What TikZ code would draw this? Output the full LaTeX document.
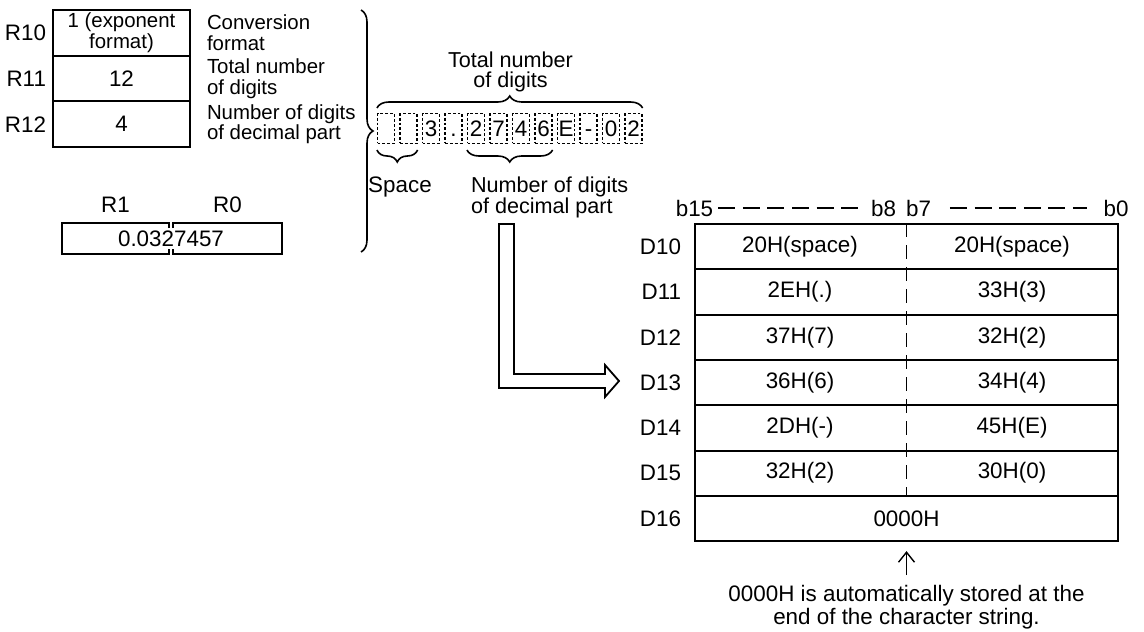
\documentclass[tikz,border=0pt]{standalone}
\usepackage{fontspec}
\setmainfont{Liberation Sans}
\usetikzlibrary{arrows.meta,positioning,decorations.pathreplacing}

\begin{document}
\begin{tikzpicture}[x=0.5pt, y=-0.5pt, line width=1pt,
    every node/.style={font=\fontsize{11.2}{10.3}\selectfont, inner sep=0pt},
    small/.style={font=\fontsize{10.2}{10.2}\selectfont},
    mid/.style={font=\fontsize{10.8}{10.3}\selectfont},
    cell/.style={draw, minimum width=68.5pt, minimum height=22.85pt, align=center},
    word/.style={draw, minimum width=211.5pt, minimum height=22.65pt},
    chr/.style={draw, line width=0.7pt, dash pattern=on 1.4pt off 1pt, minimum width=8.4pt, minimum height=14.8pt, text height=8pt, text depth=0pt},
    brc/.style={decorate, decoration={brace, amplitude=6pt}, line width=0.8pt},
    hdash/.style={line width=0.8pt, dash pattern=on 8.5pt off 3.8pt}]
    \useasboundingbox (0,0) rectangle (1144,631);

    % source registers
    \node[cell, small] (r10) at (121.5,32.85) {1 (exponent\\format)};
    \node[cell] (r11) at (121.5,78.55) {12};
    \node[cell] (r12) at (121.5,124.25) {4};
    \node[left=2.5pt of r10] {R10};
    \node[left=2.5pt of r11] {R11};
    \node[left=2.5pt of r12] {R12};
    \node[small, right=7.5pt of r10, align=left] (conv) {Conversion\\format};
    \node[small, right=7.5pt of r11, align=left] (total) {Total number\\of digits};
    \node[small, right=7.5pt of r12, align=left] (decim) {Number of digits\\of decimal part};

    \node[minimum width=52.5pt, minimum height=14.5pt] (r1) at (115.5,238.5) {};
    \node[minimum width=53.5pt, minimum height=14.5pt] (r0) at (227.5,238.5) {};
    \node[above=4.7pt of r1] {R1};
    \node[above=4.7pt of r0] {R0};
    \node (val) at (171,239) {0.0327457};
    \draw ([yshift=-2.5pt]r1.north east) -- (r1.north east) -- (r1.north west) -- (r1.south west) -- (r1.south east) -- ([yshift=2.5pt]r1.south east);
    \draw ([yshift=-2.5pt]r0.north west) -- (r0.north west) -- (r0.north east) -- (r0.south east) -- (r0.south west) -- ([yshift=2.5pt]r0.south west);

    \draw[brc] (361,10) -- (361,252);

    % character string
    \foreach \c [count=\i from 0] in {{},{},3,.,2,7,4,6,E,-,0,2}
      \node[chr] (c\i) at (386+22.5*\i,128.5) {\c};
    \draw[brc] ([yshift=2.5pt]c0.north west) -- ([yshift=2.5pt]c11.north east);
    \node[mid, align=center] (totlbl) at (510.5,72) {Total number\\of digits};
    \draw[brc] ([yshift=-3pt]c1.south east) -- ([yshift=-3pt]c0.south west);
    \node (spclbl) at (400,187) {Space};
    \draw[brc] ([yshift=-3pt]c7.south east) -- ([yshift=-3pt]c4.south west);
    \node[mid, align=left, anchor=west] (declbl) at (470,197.5) {Number of digits\\of decimal part};

    % hollow arrow
    \draw[line width=0.9pt] (499,224) -- (514,224) -- (514,374) -- (605,374) -- (605,365) -- (619,381) -- (605,397) -- (605,388) -- (499,388) -- cycle;

    % destination devices
    \node (b15) at (694.5,208) {b15};
    \node (b8) at (883.5,208) {b8};
    \node (b7) at (918.5,208) {b7};
    \node (b0) at (1116,208) {b0};
    \draw[hdash] ([xshift=2pt]b15.east) -- ([xshift=-6pt]b8.west);
    \draw[hdash] ([xshift=9pt]b7.east) -- ([xshift=-8pt]b0.west);

    \foreach \v [count=\i from 0] in {10,...,16}{
      \node[word] (row\i) at (906.5,{224+45.3*(\i+0.5)}) {};
      \node[left=6pt of row\i] {D\v};
    }
    \foreach \l/\r [count=\i from 0] in {20H(space)/20H(space),2EH(.)/33H(3),37H(7)/32H(2),36H(6)/34H(4),2DH(-)/45H(E),32H(2)/30H(0)}{
      \node at ([xshift=-53.25pt]row\i.center) {\l};
      \node at ([xshift=52.75pt]row\i.center) {\r};
    }
    \node at (row6.center) {0000H};
    \draw[line width=0.9pt, dash pattern=on 7pt off 4pt] (row0.north) -- (row5.south);

    \node[align=center] (note) at (906.5,607) {0000H is automatically stored at the\\end of the character string.};
    \draw[-{Straight Barb[length=5pt,width=8pt]}, line width=0.7pt, shorten <=4.5pt, shorten >=4.5pt] (note.north) -- (row6.south);
\end{tikzpicture}
\end{document}
